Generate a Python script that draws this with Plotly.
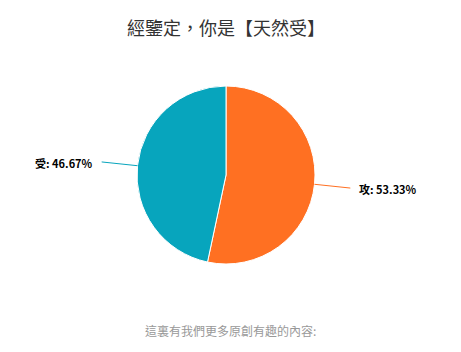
import math
import plotly.graph_objects as go

labels = ["攻", "受"]
values = [53.33, 46.67]
colors = ["#FF7022", "#07A5BD"]
title_text = "經鑒定，你是【天然受】"
footer_text = "這裏有我們更多原創有趣的內容:"

W, H = 461, 352
cx, cy, r = 226, 175, 89

fig = go.Figure(go.Pie(
    labels=labels, values=values, sort=False, direction="clockwise", rotation=0,
    marker=dict(colors=colors, line=dict(color="white", width=1)),
    textinfo="none", hoverinfo="label+percent",
    domain=dict(x=[(cx - r) / W, (cx + r) / W], y=[1 - (cy + r) / H, 1 - (cy - r) / H]),
    showlegend=False,
))

total = sum(values)
shapes = []
annotations = []
cum = 0
for lab, v, col in zip(labels, values, colors):
    mid = (cum + v / 2) / total * 2 * math.pi
    cum += v
    sx, sy = math.sin(mid), math.cos(mid)
    px, py = cx + r * sx, cy - r * sy
    ex, ey = cx + (r + 36) * sx, cy - (r + 36) * sy
    side = 1 if sx > 0 else -1
    shapes.append(dict(type="line", xref="paper", yref="paper",
                       x0=px / W, y0=1 - py / H, x1=ex / W, y1=1 - ey / H,
                       line=dict(color=col, width=1)))
    pct = v / total * 100
    annotations.append(dict(
        x=(ex + side * 7) / W, y=1 - (ey + 1) / H, xref="paper", yref="paper",
        text=f"<b>{lab}: {pct:.2f}%</b>", showarrow=False,
        xanchor="left" if side > 0 else "right", yanchor="middle",
        font=dict(size=11, color="#000000", family="Noto Sans CJK TC, DejaVu Sans"),
    ))

annotations.append(dict(
    x=0.49, y=1 - 27 / H, xref="paper", yref="paper", text=title_text, showarrow=False,
    xanchor="center", yanchor="middle",
    font=dict(size=18, color="#333333", family="Noto Sans CJK TC"),
))
annotations.append(dict(
    x=230 / W, y=1 - 330 / H, xref="paper", yref="paper", text=footer_text, showarrow=False,
    xanchor="center", yanchor="middle",
    font=dict(size=12, color="#999999", family="Noto Sans CJK TC"),
))

fig.update_layout(
    width=W, height=H, margin=dict(l=0, r=0, t=0, b=0),
    paper_bgcolor="white", plot_bgcolor="white",
    shapes=shapes, annotations=annotations,
)
fig.write_html("out.html")
